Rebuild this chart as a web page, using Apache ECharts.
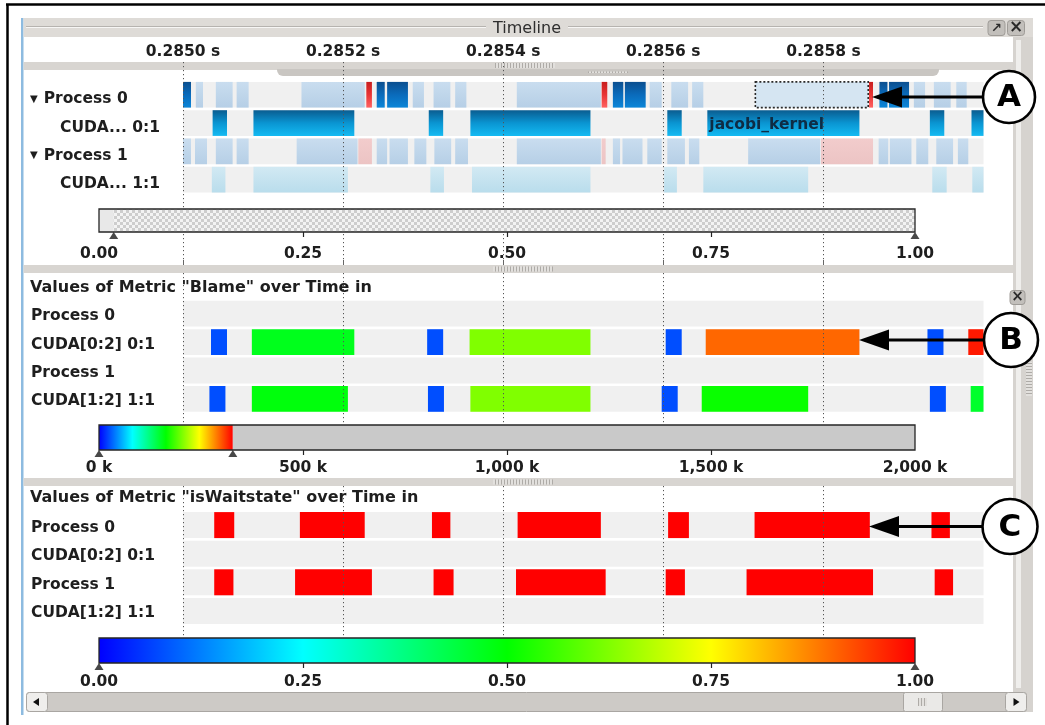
<!DOCTYPE html>
<html><head><meta charset="utf-8">
<script src="https://cdn.jsdelivr.net/npm/echarts@6/dist/echarts.min.js"></script>
<style>html,body{margin:0;padding:0;background:#fff}#c{width:1045px;height:725px}</style>
</head><body><div id="c"></div>
<script>
// ================= DATA =================
const timeAxisRange = [285000, 286000];   // microseconds
const timeTickStep = 200;
const timelineRows = ['Process 0', 'CUDA... 0:1', 'Process 1', 'CUDA... 1:1'];
const metricRows = ['Process 0', 'CUDA[0:2] 0:1', 'Process 1', 'CUDA[1:2] 1:1'];

// [start µs, end µs, kind]
const process0Events = [
  [285000,285010,'mpi'],[285016,285025,'cpu'],[285041,285062,'cpu'],[285067,285082,'cpu'],
  [285148,285227,'cpu'],[285229,285236,'red'],[285242,285252,'mpi'],[285255,285281,'mpi'],
  [285287,285301,'cpu'],[285313,285334,'cpu'],[285340,285354,'cpu'],[285417,285522,'cpu'],
  [285523,285530,'red'],[285537,285550,'mpi'],[285552,285578,'mpi'],[285583,285598,'cpu'],
  [285610,285631,'cpu'],[285636,285650,'cpu'],[285715,285856,'selected'],[285857,285862,'red'],
  [285870,285880,'mpi'],[285882,285907,'mpi'],[285913,285927,'cpu'],[285938,285959,'cpu'],
  [285966,285979,'cpu']
];
const cuda01Events = [
  [285037,285055,'kernel'],[285088,285214,'kernel'],[285307,285325,'kernel'],[285359,285509,'kernel'],
  [285605,285623,'kernel'],[285655,285845,'kernel','jacobi_kernel'],[285933,285951,'kernel'],[285985,286000,'kernel']
];
const process1Events = [
  [285000,285010,'cpu'],[285015,285030,'cpu'],[285041,285062,'cpu'],[285067,285082,'cpu'],
  [285142,285218,'cpu'],[285219,285236,'pink'],[285242,285255,'cpu'],[285258,285281,'cpu'],
  [285289,285304,'cpu'],[285314,285335,'cpu'],[285340,285356,'cpu'],[285417,285522,'cpu'],
  [285523,285528,'pink'],[285537,285546,'cpu'],[285549,285574,'cpu'],[285580,285598,'cpu'],
  [285605,285627,'cpu'],[285632,285645,'cpu'],[285706,285796,'cpu'],[285797,285862,'pink'],
  [285869,285881,'cpu'],[285883,285910,'cpu'],[285916,285931,'cpu'],[285941,285962,'cpu'],
  [285968,285981,'cpu']
];
const cuda11Events = [
  [285036,285053,'idle'],[285088,285206,'idle'],[285309,285326,'idle'],[285361,285509,'idle'],
  [285601,285617,'idle'],[285650,285781,'idle'],[285936,285954,'idle'],[285986,286000,'idle']
];

// Blame metric: [start µs, end µs, value (k)]
const blameCuda01 = [
  [285035,285055,25],[285086,285214,155],[285305,285325,25],[285358,285509,205],
  [285603,285623,25],[285653,285845,295],[285930,285950,25],[285981,286000,320]
];
const blameCuda11 = [
  [285033,285053,25],[285086,285206,160],[285306,285326,25],[285359,285509,205],
  [285598,285618,25],[285648,285781,167],[285933,285953,25],[285984,286000,150]
];
// isWaitstate metric: [start µs, end µs, value]
const waitProcess0 = [
  [285039,285064,1],[285146,285227,1],[285311,285334,1],[285418,285522,1],
  [285606,285632,1],[285714,285858,1],[285935,285958,1]
];
const waitProcess1 = [
  [285039,285063,1],[285140,285236,1],[285313,285338,1],[285416,285528,1],
  [285603,285627,1],[285704,285862,1],[285939,285962,1]
];

const navigatorRange = [0.018, 1.0];
const navigatorTicks = [0.25, 0.5, 0.75];
const blameScaleMax = 2000;      // k
const blameColorMax = 328;       // k
const blameTickLabels = ['0 k', '500 k', '1,000 k', '1,500 k', '2,000 k'];
const blameTicks = [500, 1000, 1500];
const waitScaleMax = 1;
const waitTicks = [0.25, 0.5, 0.75];
const colorStops = ['#0000ff', '#00ffff', '#00ff00', '#ffff00', '#ff0000'];

// ================= STYLE =================
const FAM = '"DejaVu Sans", sans-serif';
const FS = 15.5;
const TXT = '#1e1e1e';
const vGrad = cols => new echarts.graphic.LinearGradient(0, 0, 0, 1, cols.map((c, i) => ({offset: i / (cols.length - 1), color: c})));
const hGrad = cols => new echarts.graphic.LinearGradient(0, 0, 1, 0, cols.map((c, i) => ({offset: i / (cols.length - 1), color: c})));
const kindFill = {
  mpi: vGrad(['#0b4f90', '#0a6bbb', '#0b86d8']),
  cpu: vGrad(['#c9ddef', '#b6cfe6']),
  selected: '#d5e5f2',
  red: vGrad(['#c81e1e', '#e83434', '#ff6262']),
  pink: vGrad(['#f2cccc', '#ecc4c4']),
  kernel: vGrad(['#0a5c90', '#0a95d2', '#14baf2']),
  idle: vGrad(['#d2e9f3', '#b9ddec'])
};
const ROW_BG = '#f0f0f0';

// checker pattern for navigator
const checker = document.createElement('canvas');
checker.width = 6; checker.height = 6;
(function(){const g = checker.getContext('2d'); g.fillStyle = '#f3f3f3'; g.fillRect(0,0,6,6);
  g.fillStyle = '#cdcdcd'; g.fillRect(0,0,3,3); g.fillRect(3,3,3,3);})();
const stripes = document.createElement('canvas');
stripes.width = 3; stripes.height = 4;
(function(){const g = stripes.getContext('2d'); g.fillStyle = '#e2e0dd'; g.fillRect(0,0,3,4);
  g.fillStyle = '#aeaba7'; g.fillRect(0,0,1,4);})();
const hstripes = document.createElement('canvas');
hstripes.width = 4; hstripes.height = 3;
(function(){const g = hstripes.getContext('2d'); g.fillStyle = '#e2e0dd'; g.fillRect(0,0,4,3);
  g.fillStyle = '#aeaba7'; g.fillRect(0,0,4,1);})();

// ================= BUILD SERIES DATA =================
const timelineData = [], timelineKinds = [], timelineLabels = [];
[process0Events, cuda01Events, process1Events, cuda11Events].forEach((evs, row) => {
  evs.forEach(ev => { timelineData.push([ev[0], ev[1], row]); timelineKinds.push(ev[2]); timelineLabels.push(ev[3] || ''); });
});
const blameData = [];
blameCuda01.forEach(d => blameData.push([d[0], d[1], 1, d[2]]));
blameCuda11.forEach(d => blameData.push([d[0], d[1], 3, d[2]]));
const waitData = [];
waitProcess0.forEach(d => waitData.push([d[0], d[1], 0, d[2]]));
waitProcess1.forEach(d => waitData.push([d[0], d[1], 2, d[2]]));
const rowBgData = [0, 1, 2, 3].map(i => [timeAxisRange[0], timeAxisRange[1], i]);

function clipTo(params, r) {
  const c = params.coordSys;
  return echarts.graphic.clipRectByRect(r, {x: c.x, y: c.y, width: c.width, height: c.height});
}
function bandRect(params, api, pad) {
  const row = api.value(2);
  const a = api.coord([api.value(0), row]);
  const b = api.coord([api.value(1), row]);
  const h = api.size([0, 1])[1] - pad;
  return clipTo(params, {x: a[0], y: a[1] - h / 2, width: b[0] - a[0], height: h});
}
function renderRowBg(params, api) {
  const s = bandRect(params, api, 2.6);
  return s && {type: 'rect', shape: s, style: {fill: ROW_BG}};
}
function renderTimeline(params, api) {
  const s = bandRect(params, api, 2.6);
  if (!s) return;
  const kind = timelineKinds[params.dataIndex];
  const el = {type: 'rect', shape: s, style: {fill: kindFill[kind]}};
  if (kind === 'selected') { el.style.stroke = '#2a2a2a'; el.style.lineWidth = 1.6; el.style.lineDash = [2, 2]; }
  const label = timelineLabels[params.dataIndex];
  if (label) {
    return {type: 'group', children: [el, {type: 'text', x: s.x + 2, y: s.y + s.height / 2 + 2,
      style: {text: label, font: 'bold ' + FS + 'px ' + FAM, fill: '#0e2c45', verticalAlign: 'middle'}}]};
  }
  return el;
}
function metricRenderer(maxV) {
  return function (params, api) {
    const s = bandRect(params, api, 2.6);
    if (!s) return;
    const t = Math.max(0, Math.min(1, api.value(3) / maxV));
    return {type: 'rect', shape: s, style: {fill: echarts.color.lerp(t, colorStops)}};
  };
}
function scaleRenderer(kinds, gradientFill) {
  return function (params, api) {
    const a = api.coord([api.value(0), 0]);
    const b = api.coord([api.value(1), 1]);
    const shape = {x: a[0], y: b[1], width: b[0] - a[0], height: a[1] - b[1]};
    const k = kinds[params.dataIndex];
    if (k === 'frame') return {type: 'rect', shape, style: {fill: 'none', stroke: '#262626', lineWidth: 1.3}};
    if (k === 'checker') return {type: 'rect', shape, style: {fill: {image: checker, repeat: 'repeat'}}};
    if (k === 'gradient') return {type: 'rect', shape, style: {fill: gradientFill}};
    return {type: 'rect', shape, style: {fill: k === 'plain' ? '#e8e8e8' : '#c9c9c9'}};
  };
}
const rainbow = hGrad(colorStops);

// ================= LAYOUT =================
const PX0 = 183, PW = 800.5;
const grids = [
  {left: PX0, width: PW, top: 62, height: 203},      // 0 timeline lines
  {left: PX0, width: PW, top: 80.6, height: 113.2},  // 1 timeline rows
  {left: PX0, width: PW, top: 273, height: 152},     // 2 blame lines
  {left: PX0, width: PW, top: 299.5, height: 113.6}, // 3 blame rows
  {left: PX0, width: PW, top: 486, height: 150},     // 4 wait lines
  {left: PX0, width: PW, top: 510.8, height: 114.4}, // 5 wait rows
  {left: 99, width: 816, top: 209, height: 23},      // 6 navigator
  {left: 99, width: 816, top: 425, height: 25},      // 7 blame color bar
  {left: 99, width: 816, top: 638, height: 25}       // 8 wait color bar
];
const labelFont = {fontFamily: FAM, fontSize: FS, fontWeight: 'bold', color: TXT};
const dotted = {show: true, showMaxLine: false, lineStyle: {color: '#555', width: 1, type: [1.2, 2.8]}};
function timeAxis(grid, opts) {
  return Object.assign({type: 'value', gridIndex: grid, min: timeAxisRange[0], max: timeAxisRange[1],
    interval: timeTickStep, axisLine: {show: false}, axisTick: {show: false}, axisLabel: {show: false},
    splitLine: {show: false}}, opts);
}
function scaleAxis(grid, max, interval, ticks, fmt, margin) {
  return {type: 'value', gridIndex: grid, min: 0, max: max, interval: interval, position: 'bottom', offset: -4,
    axisLine: {show: false},
    axisTick: {show: true, length: 9, customValues: ticks, lineStyle: {color: '#222', width: 1.2}},
    axisLabel: Object.assign({margin: margin, formatter: fmt}, labelFont),
    splitLine: {show: false}};
}
const xAxes = [
  timeAxis(0, {position: 'top', z: 3, splitLine: dotted,
    axisTick: {show: true, length: 5, lineStyle: {color: '#666'}},
    axisLabel: Object.assign({show: true, margin: 2, showMaxLabel: false,
      formatter: v => (v / 1e6).toFixed(4) + ' s'}, labelFont)}),
  timeAxis(1, {show: false}),
  timeAxis(2, {z: 3, splitLine: dotted}),
  timeAxis(3, {show: false}),
  timeAxis(4, {z: 3, splitLine: dotted}),
  timeAxis(5, {show: false}),
  scaleAxis(6, 1, 0.25, navigatorTicks, v => v.toFixed(2), 18),
  scaleAxis(7, blameScaleMax, 500, blameTicks, v => blameTickLabels[Math.round(v / 500)], 14),
  scaleAxis(8, waitScaleMax, 0.25, waitTicks, v => v.toFixed(2), 15)
];
function rowAxis(grid, cats, timeline) {
  return {type: 'category', gridIndex: grid, data: cats, inverse: true,
    axisLine: {show: false}, axisTick: {show: false}, splitLine: {show: false},
    axisLabel: Object.assign({align: 'left', margin: timeline ? 153 : 152,
      padding: timeline ? [9, 0, 0, 0] : [5, 0, 0, 0],
      formatter: timeline ? (v => v.indexOf('CUDA') === 0 ? '{ind|' + v + '}' : '{tri|▼}{txt|' + v + '}') : (v => '{txt|' + v + '}'),
      rich: timeline ? {
        ind: Object.assign({padding: [0, 0, 0, 30]}, labelFont),
        tri: {fontFamily: FAM, fontSize: 10, color: TXT, padding: [0, 6, 0, 0]},
        txt: Object.assign({}, labelFont)
      } : {txt: Object.assign({}, labelFont)}}, labelFont)};
}
const hiddenY = g => ({type: 'value', gridIndex: g, min: 0, max: 1, show: false});
const yAxes = [
  hiddenY(0), rowAxis(1, timelineRows, true),
  hiddenY(2), rowAxis(3, metricRows, false),
  hiddenY(4), rowAxis(5, metricRows, false),
  hiddenY(6), hiddenY(7), hiddenY(8)
];

const navKinds = ['plain', 'checker', 'frame'];
const blameBarKinds = ['gradient', 'gray', 'frame'];
const waitBarKinds = ['gradient', 'frame'];
const tri = (xi, data) => ({type: 'scatter', xAxisIndex: xi, yAxisIndex: xi, data: data, symbol: 'triangle',
  symbolSize: [9, 7], symbolOffset: [0, 3.5], itemStyle: {color: '#1a1a1a'}, clip: false, silent: true, z: 6});

const series = [
  {type: 'custom', xAxisIndex: 1, yAxisIndex: 1, data: rowBgData, encode: {x: [0, 1], y: 2}, renderItem: renderRowBg, z: 1, silent: true},
  {type: 'custom', xAxisIndex: 1, yAxisIndex: 1, data: timelineData, encode: {x: [0, 1], y: 2}, renderItem: renderTimeline, z: 2},
  {type: 'custom', xAxisIndex: 3, yAxisIndex: 3, data: rowBgData, encode: {x: [0, 1], y: 2}, renderItem: renderRowBg, z: 1, silent: true},
  {type: 'custom', xAxisIndex: 3, yAxisIndex: 3, data: blameData, encode: {x: [0, 1], y: 2}, renderItem: metricRenderer(blameColorMax), z: 2},
  {type: 'custom', xAxisIndex: 5, yAxisIndex: 5, data: rowBgData, encode: {x: [0, 1], y: 2}, renderItem: renderRowBg, z: 1, silent: true},
  {type: 'custom', xAxisIndex: 5, yAxisIndex: 5, data: waitData, encode: {x: [0, 1], y: 2}, renderItem: metricRenderer(waitScaleMax), z: 2},
  {type: 'custom', xAxisIndex: 6, yAxisIndex: 6, encode: {x: [0, 1], y: 2},
    data: [[0, navigatorRange[0], 0], [navigatorRange[0], navigatorRange[1], 0], [0, 1, 0]],
    renderItem: scaleRenderer(navKinds, null), z: 5, silent: true},
  tri(6, [[navigatorRange[0], 0], [navigatorRange[1], 0]]),
  {type: 'custom', xAxisIndex: 7, yAxisIndex: 7, encode: {x: [0, 1], y: 2},
    data: [[0, blameColorMax, 0], [blameColorMax, blameScaleMax, 0], [0, blameScaleMax, 0]],
    renderItem: scaleRenderer(blameBarKinds, rainbow), z: 5, silent: true},
  tri(7, [[0, 0], [blameColorMax, 0]]),
  {type: 'custom', xAxisIndex: 8, yAxisIndex: 8, encode: {x: [0, 1], y: 2},
    data: [[0, waitScaleMax, 0], [0, waitScaleMax, 0]],
    renderItem: scaleRenderer(waitBarKinds, rainbow), z: 5, silent: true},
  tri(8, [[0, 0], [waitScaleMax, 0]])
];

// ================= CHROME & ANNOTATIONS =================
const C = -1;
const chrome = [
  {type: 'line', shape: {x1: 6, y1: 4.5, x2: 1045, y2: 4.5}, style: {stroke: '#000', lineWidth: 2.5}, z: C},
  {type: 'line', shape: {x1: 7.5, y1: 4, x2: 7.5, y2: 725}, style: {stroke: '#000', lineWidth: 2.5}, z: C},
  {type: 'rect', shape: {x: 21, y: 18, width: 2.5, height: 697}, style: {fill: '#8dbbe0'}, z: C},
  {type: 'rect', shape: {x: 23.5, y: 18, width: 1009.5, height: 19}, style: {fill: '#dedbd7'}, z: C},
  {type: 'line', shape: {x1: 26, y1: 26.5, x2: 486, y2: 26.5}, style: {stroke: '#b6b3af', lineWidth: 1}, z: C},
  {type: 'line', shape: {x1: 26, y1: 27.5, x2: 486, y2: 27.5}, style: {stroke: '#f7f6f5', lineWidth: 1}, z: C},
  {type: 'line', shape: {x1: 568, y1: 26.5, x2: 983, y2: 26.5}, style: {stroke: '#b6b3af', lineWidth: 1}, z: C},
  {type: 'line', shape: {x1: 568, y1: 27.5, x2: 983, y2: 27.5}, style: {stroke: '#f7f6f5', lineWidth: 1}, z: C},
  {type: 'text', x: 527, y: 29, style: {text: 'Timeline', font: '16px ' + FAM, fill: '#2e2e2e', align: 'center', verticalAlign: 'middle'}, z: C},
  {type: 'rect', shape: {x: 988, y: 20.5, width: 17, height: 15, r: 3}, style: {fill: '#c2bfbb', stroke: '#9e9b97'}, z: C},
  {type: 'text', x: 996.5, y: 28.5, style: {text: '↗', font: 'bold 13px ' + FAM, fill: '#2a2a2a', align: 'center', verticalAlign: 'middle'}, z: C},
  {type: 'rect', shape: {x: 1007.5, y: 20.5, width: 17, height: 15, r: 3}, style: {fill: '#c2bfbb', stroke: '#9e9b97'}, z: C},
  {type: 'text', x: 1016, y: 28, style: {text: '×', font: 'bold 17px ' + FAM, fill: '#2a2a2a', align: 'center', verticalAlign: 'middle'}, z: C},
  // right strip
  {type: 'rect', shape: {x: 1013, y: 37, width: 20, height: 675}, style: {fill: '#d6d3cf'}, z: C},
  {type: 'rect', shape: {x: 1016, y: 40, width: 5, height: 648}, style: {fill: '#efeeec'}, z: C},
  {type: 'rect', shape: {x: 1010, y: 290.5, width: 15, height: 14, r: 3}, style: {fill: '#c2bfbb', stroke: '#9e9b97'}, z: C},
  {type: 'text', x: 1017.5, y: 297.5, style: {text: '×', font: 'bold 15px ' + FAM, fill: '#2a2a2a', align: 'center', verticalAlign: 'middle'}, z: C},
  {type: 'rect', shape: {x: 1026, y: 362, width: 6, height: 34}, style: {fill: {image: hstripes, repeat: 'repeat'}}, z: C},
  // splitters
  {type: 'rect', shape: {x: 23.5, y: 62, width: 989.5, height: 8}, style: {fill: '#d8d5d1'}, z: C},
  {type: 'rect', shape: {x: 277, y: 69, width: 662, height: 7, r: [0, 0, 6, 6]}, style: {fill: '#c9c6c2'}, z: C},
  {type: 'rect', shape: {x: 495, y: 63, width: 60, height: 5}, style: {fill: {image: stripes, repeat: 'repeat'}}, z: C},
  {type: 'rect', shape: {x: 588, y: 71.5, width: 40, height: 1.5}, style: {fill: {image: stripes, repeat: 'repeat'}}, z: C},
  {type: 'rect', shape: {x: 23.5, y: 265, width: 989.5, height: 8}, style: {fill: '#d8d5d1'}, z: C},
  {type: 'rect', shape: {x: 493, y: 266.5, width: 60, height: 5}, style: {fill: {image: stripes, repeat: 'repeat'}}, z: C},
  {type: 'rect', shape: {x: 23.5, y: 478, width: 989.5, height: 8}, style: {fill: '#d8d5d1'}, z: C},
  {type: 'rect', shape: {x: 493, y: 479.5, width: 60, height: 5}, style: {fill: {image: stripes, repeat: 'repeat'}}, z: C},
  // bottom scrollbar
  {type: 'rect', shape: {x: 26.5, y: 692.5, width: 1000, height: 19, r: 3}, style: {fill: '#cdcac6', stroke: '#a9a6a2'}, z: C},
  {type: 'rect', shape: {x: 26.5, y: 692.5, width: 21, height: 19, r: 3}, style: {fill: '#efeeec', stroke: '#a9a6a2'}, z: C},
  {type: 'polygon', shape: {points: [[33, 702], [39, 698], [39, 706]]}, style: {fill: '#111'}, z: C},
  {type: 'rect', shape: {x: 1005.5, y: 692.5, width: 21, height: 19, r: 3}, style: {fill: '#efeeec', stroke: '#a9a6a2'}, z: C},
  {type: 'polygon', shape: {points: [[1019.5, 702], [1013.5, 698], [1013.5, 706]]}, style: {fill: '#111'}, z: C},
  {type: 'rect', shape: {x: 903.5, y: 692.5, width: 39, height: 19, r: 2}, style: {fill: '#eae9e7', stroke: '#a9a6a2'}, z: C},
  {type: 'rect', shape: {x: 918, y: 698, width: 9, height: 8}, style: {fill: {image: stripes, repeat: 'repeat'}}, z: C}
];
function callout(cx, cy, r, letter, tipX) {
  const headLen = 30, half = 10.5;
  return [
    {type: 'line', shape: {x1: tipX + headLen - 2, y1: cy, x2: cx - r, y2: cy}, style: {stroke: '#000', lineWidth: 3}, z: 20},
    {type: 'polygon', shape: {points: [[tipX, cy], [tipX + headLen, cy - half], [tipX + headLen, cy + half]]}, style: {fill: '#000'}, z: 20},
    {type: 'circle', shape: {cx: cx, cy: cy, r: r}, style: {fill: '#fff', stroke: '#000', lineWidth: 2.6}, z: 20},
    {type: 'text', x: cx, y: cy + 1, style: {text: letter, font: 'bold 31px ' + FAM, fill: '#000', align: 'center', verticalAlign: 'middle'}, z: 21}
  ];
}
const annotations = [].concat(
  callout(1009, 97, 26, 'A', 872),
  callout(1011, 340, 27, 'B', 859),
  callout(1010, 526.5, 27.5, 'C', 869)
);

const titleStyle = {fontFamily: FAM, fontSize: 16, fontWeight: 'bold', color: TXT};
const option = {
  animation: false,
  backgroundColor: '#fff',
  title: [
    {text: 'Values of Metric "Blame" over Time in', left: 30, top: 280, padding: 0, textStyle: titleStyle},
    {text: 'Values of Metric "isWaitstate" over Time in', left: 30, top: 490, padding: 0, textStyle: titleStyle}
  ],
  grid: grids,
  xAxis: xAxes,
  yAxis: yAxes,
  series: series,
  graphic: {elements: chrome.concat(annotations)}
};
const chart = echarts.init(document.getElementById('c'), null, {renderer: 'canvas'});
chart.setOption(option);
</script>
</body></html>
